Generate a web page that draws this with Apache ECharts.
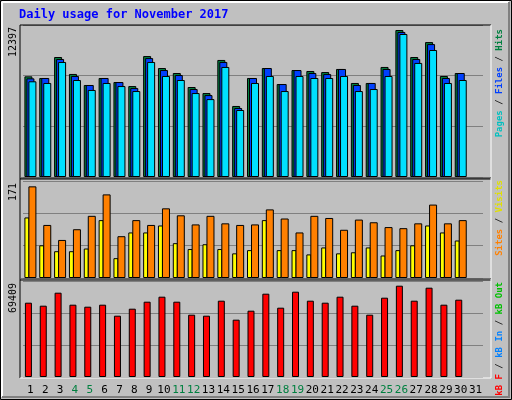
<!DOCTYPE html><html><head><meta charset="utf-8">
<script src="https://cdn.jsdelivr.net/npm/echarts@6/dist/echarts.min.js"></script>
<style>html,body{margin:0;padding:0;background:#fff}#c{width:512px;height:400px}</style></head><body><div id="c"></div>
<script>
const days = Array.from({length:31},(_, i)=>String(i+1));
const weekend = ['4','5','11','12','18','19','25','26'];
const hits  = [8490,8350,10120,8690,7760,8350,8010,7670,10200,9190,8770,7590,7080,9870,5990,8350,9190,7840,9020,8940,8850,9110,7930,7930,9280,12397,10120,11380,8520,8770];
const files = [8320,8350,9950,8520,7760,8350,8010,7500,10030,9020,8600,7420,6910,9700,5820,8350,9190,7840,9020,8770,8680,9110,7760,7930,9110,12230,9950,11210,8350,8770];
const pages = [8070,7930,9700,8180,7340,7930,7670,7250,9700,8520,8180,7080,6570,9280,5650,7930,8520,7250,8520,8350,8350,8520,7250,7420,8520,12060,9620,10710,7930,8180];
const visits= [113,61,50,50,55,108,37,85,85,98,65,54,63,54,46,52,108,52,52,44,57,46,48,57,42,52,61,98,85,70];
const sites = [171,99,71,91,116,156,78,108,99,130,117,100,116,102,99,100,128,111,85,116,112,90,109,104,95,93,102,137,102,108];
const kbytes= [56490,54210,64090,54970,53450,54970,46610,51930,57250,61050,57250,47370,46610,58010,43570,50410,63330,52690,64850,58010,56490,61050,54210,47370,60290,69409,58010,67890,54970,58770];
const maxLabels = ['12397','171','69409'];
const axisMax = [12819,181,72980];

const ch = echarts.init(document.getElementById('c'));
const G = [{top:25,height:152},{top:181,height:97},{top:281,height:96}];
const mono = '"DejaVu Sans Mono", monospace';
const grids = G.map(g=>({left:23,width:460,top:g.top,height:g.height}));
const xAxes = G.map((g,i)=>({type:'category',gridIndex:i,data:days,axisLine:{show:false},axisTick:{show:false},
  axisLabel:i<2?{show:false}:{show:true,margin:8,fontFamily:mono,fontSize:11,interval:0,
   formatter:v=>weekend.includes(v)?'{w|'+v+'}':'{n|'+v+'}',rich:{w:{color:'#008040',fontFamily:mono,fontSize:11},n:{color:'#000',fontFamily:mono,fontSize:11}}}}));
const yAxes = axisMax.map((m,i)=>({type:'value',gridIndex:i,min:0,max:m,interval:m/3,axisLabel:{show:false},axisLine:{show:false},axisTick:{show:false},
  splitLine:{lineStyle:{color:'#808080',width:1}}}));
const bs = c=>({color:c,borderColor:'#000',borderWidth:1});
const series = [
 {type:'bar',xAxisIndex:0,yAxisIndex:0,data:hits,barWidth:8,barGap:'-75%',itemStyle:bs('#008040'),z:2},
 {type:'bar',xAxisIndex:0,yAxisIndex:0,data:files,barWidth:8,barGap:'-75%',itemStyle:bs('#0040ff'),z:3},
 {type:'bar',xAxisIndex:0,yAxisIndex:0,data:pages,barWidth:8,barGap:'-75%',itemStyle:bs('#00e0ff'),z:4},
 {type:'bar',xAxisIndex:1,yAxisIndex:1,data:visits,barWidth:5,barGap:'-20%',itemStyle:bs('#ffff00'),z:2},
 {type:'bar',xAxisIndex:1,yAxisIndex:1,data:sites,barWidth:8,barGap:'-20%',itemStyle:bs('#ff8000'),z:3},
 {type:'bar',xAxisIndex:2,yAxisIndex:2,data:kbytes,barWidth:7,barGap:'0%',itemStyle:bs('#ff0000')},
 {type:'bar',xAxisIndex:2,yAxisIndex:2,data:[],barWidth:4,barGap:'0%'}
];
const frame = (y,h)=>[
 {type:'line',shape:{x1:20,y1:y,x2:491,y2:y},style:{stroke:'#000',lineWidth:1},z:10},
 {type:'line',shape:{x1:20,y1:y,x2:20,y2:y+h},style:{stroke:'#000',lineWidth:1},z:10},
 {type:'line',shape:{x1:20,y1:y+h,x2:491,y2:y+h},style:{stroke:'#fff',lineWidth:1},z:10},
 {type:'line',shape:{x1:491,y1:y,x2:491,y2:y+h},style:{stroke:'#fff',lineWidth:1},z:10}];
const vtext = (x,y,rich,txt,fs)=>({type:'text',x:x,y:y,rotation:Math.PI/2,style:{text:txt,rich:rich,fontFamily:mono,fontSize:fs||10,align:'right',verticalAlign:'middle'},z:10});
const rb = (c,b)=>({fill:c,fontFamily:mono,fontSize:9,fontWeight:b?'bold':'normal'});
ch.setOption({
 animation:false,backgroundColor:'#c0c0c0',
 grid:grids,xAxis:xAxes,yAxis:yAxes,series:series,
 graphic:[
  {type:'rect',shape:{x:0.5,y:0.5,width:511,height:399},style:{fill:'none',stroke:'#000',lineWidth:1},z:10},
  {type:'line',shape:{x1:2,y1:2,x2:509,y2:2},style:{stroke:'#fff',lineWidth:2},z:10},
  {type:'line',shape:{x1:2,y1:2,x2:2,y2:397},style:{stroke:'#fff',lineWidth:2},z:10},
  {type:'line',shape:{x1:2,y1:397,x2:510,y2:397},style:{stroke:'#808080',lineWidth:2},z:10},
  {type:'line',shape:{x1:509,y1:2,x2:509,y2:397},style:{stroke:'#808080',lineWidth:2},z:10},
  {type:'text',x:19,y:9,style:{text:'Daily usage for November 2017',fill:'#0000ff',fontFamily:mono,fontSize:12,fontWeight:'bold'},z:10},
  ...frame(25,153),
  {type:'line',shape:{x1:20,y1:179,x2:491,y2:179},style:{stroke:'#000',lineWidth:1},z:10},
  {type:'line',shape:{x1:20,y1:280,x2:491,y2:280},style:{stroke:'#000',lineWidth:1},z:10},
  ...frame(178,101),...frame(279,99),
  vtext(13,27,{},maxLabels[0]),
  vtext(13,183,{},maxLabels[1]),
  vtext(13,283,{},maxLabels[2]),
  vtext(500,29,{p:rb('#00c0c0',1),s:rb('#000'),f:rb('#0040ff',1),h:rb('#008040',1)},'{p|Pages}{s| / }{f|Files}{s| / }{h|Hits}',9),
  vtext(500,180,{v:rb('#e0e000',1),s:rb('#000'),o:rb('#ff8000',1)},'{o|Sites}{s| / }{v|Visits}',9),
  vtext(500,282,{r:rb('#ff0000',1),s:rb('#000'),b:rb('#0080ff',1),g:rb('#00c000',1)},'{r|kB F}{s| / }{b|kB In}{s| / }{g|kB Out}',9)
 ]
});
</script></body></html>
